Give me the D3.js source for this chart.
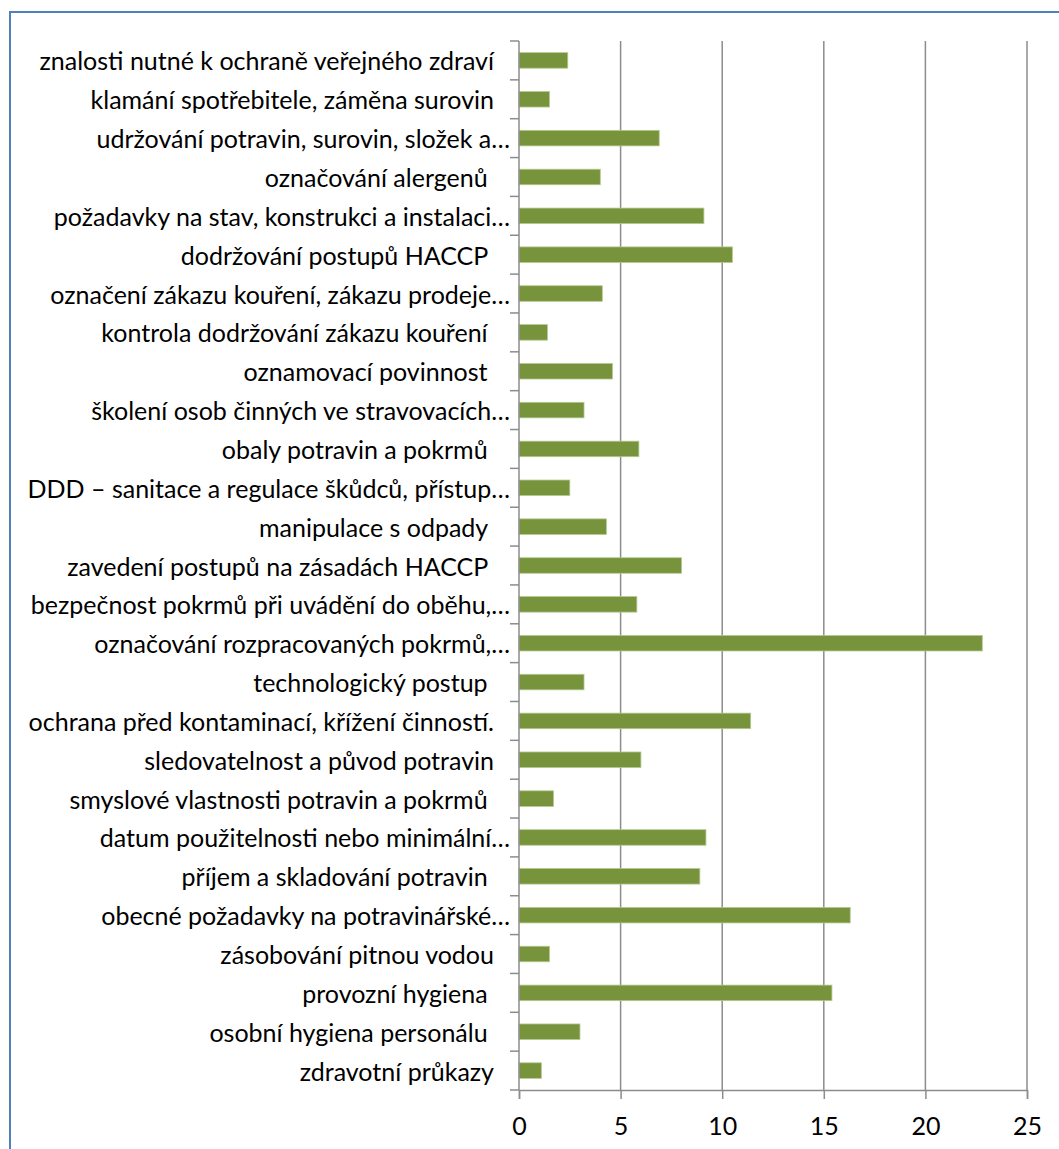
<!DOCTYPE html>
<html>
<head>
<meta charset="utf-8">
<script src="https://cdn.jsdelivr.net/npm/d3@7"></script>
<style>
body { margin: 0; background: #fff; }
text { font-family: Lato, "Open Sans", sans-serif; fill: #000; white-space: pre; }
</style>
</head>
<body>
<div id="chart"></div>
<script>
// categories top to bottom
var categories = [
  "znalosti nutné k ochraně veřejného zdraví",
  "klamání spotřebitele, záměna surovin",
  "udržování potravin, surovin, složek a…",
  "označování alergenů ",
  "požadavky na stav, konstrukci a instalaci…",
  "dodržování postupů HACCP ",
  "označení zákazu kouření, zákazu prodeje…",
  "kontrola dodržování zákazu kouření ",
  "oznamovací povinnost ",
  "školení osob činných ve stravovacích…",
  "obaly potravin a pokrmů ",
  "DDD – sanitace a regulace škůdců, přístup…",
  "manipulace s odpady ",
  "zavedení postupů na zásadách HACCP ",
  "bezpečnost pokrmů při uvádění do oběhu,…",
  "označování rozpracovaných pokrmů,…",
  "technologický postup ",
  "ochrana před kontaminací, křížení činností.",
  "sledovatelnost a původ potravin",
  "smyslové vlastnosti potravin a pokrmů ",
  "datum použitelnosti nebo minimální…",
  "příjem a skladování potravin ",
  "obecné požadavky na potravinářské…",
  "zásobování pitnou vodou",
  "provozní hygiena ",
  "osobní hygiena personálu ",
  "zdravotní průkazy"
];
var values = [2.4, 1.5, 6.9, 4.0, 9.1, 10.5, 4.1, 1.4, 4.6, 3.2, 5.9, 2.5, 4.3, 8.0,
              5.8, 22.8, 3.2, 11.4, 6.0, 1.7, 9.2, 8.9, 16.3, 1.5, 15.4, 3.0, 1.1];
var xTicks = [0, 5, 10, 15, 20, 25];

var margin = {top: 41, left: 519},
    width = 1027 - margin.left,
    height = 1090 - margin.top;

var svg = d3.select("#chart").append("svg")
  .attr("width", 1059)
  .attr("height", 1149);

// frame
svg.append("rect")
  .attr("x", 10).attr("y", 12)
  .attr("width", 1100).attr("height", 1200)
  .attr("fill", "none")
  .attr("stroke", "#4f81bd")
  .attr("stroke-width", 2);

var g = svg.append("g")
  .attr("transform", "translate(" + margin.left + "," + margin.top + ")");

var x = d3.scaleLinear().domain([0, 25]).range([0, width]);
var y = d3.scaleBand().domain(categories).range([0, height])
  .paddingInner(0.6).paddingOuter(0.3);

// vertical gridlines
g.selectAll(".grid")
  .data(xTicks.slice(1))
  .enter().append("line")
  .attr("x1", function(d) { return x(d); })
  .attr("x2", function(d) { return x(d); })
  .attr("y1", 0).attr("y2", height)
  .attr("stroke", "#8c8c8c")
  .attr("stroke-width", 1.5);

// bars
g.selectAll(".bar")
  .data(values)
  .enter().append("rect")
  .attr("class", "bar")
  .attr("x", 0)
  .attr("y", function(d, i) { return y(categories[i]); })
  .attr("width", function(d) { return x(d); })
  .attr("height", y.bandwidth())
  .attr("fill", "#77933c")
  .attr("stroke", "#b5c98f")
  .attr("stroke-width", 0.8);

// x axis
var xAxis = d3.axisBottom(x).tickValues(xTicks).tickSize(9).tickPadding(18);
var xg = g.append("g")
  .attr("transform", "translate(0," + height + ")")
  .call(xAxis);
xg.select(".domain").attr("stroke", "#8c8c8c").attr("stroke-width", 1.5);
xg.selectAll(".tick line").attr("stroke", "#8c8c8c").attr("stroke-width", 1.5);
xg.selectAll(".tick text").style("font-size", "25px").attr("fill", "#000");

// y axis: ticks at band boundaries
var step = y.step();
g.append("line")
  .attr("x1", 0).attr("x2", 0).attr("y1", 0).attr("y2", height)
  .attr("stroke", "#8c8c8c").attr("stroke-width", 1.5);
g.selectAll(".ytick")
  .data(d3.range(categories.length + 1))
  .enter().append("line")
  .attr("x1", -9).attr("x2", 0)
  .attr("y1", function(d) { return d * step; })
  .attr("y2", function(d) { return d * step; })
  .attr("stroke", "#8c8c8c").attr("stroke-width", 1.5);

// category labels
g.selectAll(".label")
  .data(categories)
  .enter().append("text")
  .attr("class", "label")
  .attr("x", function(d) { return d.slice(-1) === "…" ? -9 : -25; })
  .attr("y", function(d) { return y(d) + y.bandwidth() / 2; })
  .attr("dy", "0.4em")
  .attr("text-anchor", "end")
  .style("font-size", "25px")
  .text(function(d) { return d; });
</script>
</body>
</html>
